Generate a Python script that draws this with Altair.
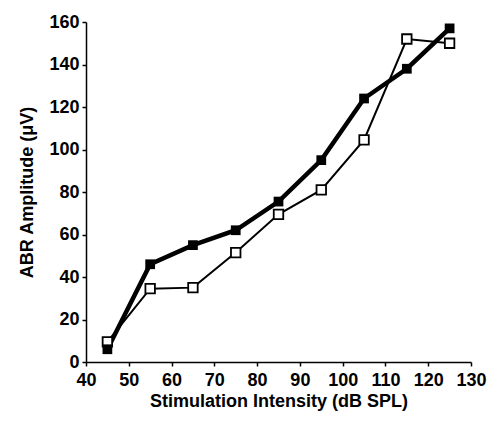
import altair as alt
import pandas as pd

intensity = [45, 55, 65, 75, 85, 95, 105, 115, 125]
filled_vals = [6, 46, 55, 62, 75.5, 95, 124, 138, 157]
open_vals = [9.5, 34.5, 35, 51.5, 69.5, 81, 104.5, 152, 150]

rows = []
for x, v in zip(intensity, filled_vals):
    rows.append({"x": x, "y": v, "series": "filled"})
for x, v in zip(intensity, open_vals):
    rows.append({"x": x, "y": v, "series": "open"})
df = pd.DataFrame(rows)

FONT = "Liberation Sans Narrow, Liberation Sans, Arial, sans-serif"

xenc = alt.X("x:Q", scale=alt.Scale(domain=[40, 130], nice=False, zero=False),
             axis=alt.Axis(values=list(range(40, 131, 10)), title="Stimulation Intensity (dB SPL)",
                           grid=False, tickSize=4, labelPadding=5, titlePadding=3,
                           labelOverlap=False, labelFlush=False))
yenc = alt.Y("y:Q", scale=alt.Scale(domain=[0, 160], nice=False),
             axis=alt.Axis(values=list(range(0, 161, 20)), title="ABR Amplitude (\u03bcV)",
                           grid=False, tickSize=4, labelPadding=3, titlePadding=12,
                           labelOverlap=False, labelFlush=False))

base = alt.Chart(df)

open_line = base.transform_filter(alt.datum.series == "open").mark_line(
    color="black", strokeWidth=2).encode(x=xenc, y=yenc)
filled_line = base.transform_filter(alt.datum.series == "filled").mark_line(
    color="black", strokeWidth=4.5).encode(x=xenc, y=yenc)
open_pts = base.transform_filter(alt.datum.series == "open").mark_square(
    size=90, fill="white", stroke="black", strokeWidth=1.8, opacity=1, filled=True).encode(x=xenc, y=yenc)
filled_pts = base.transform_filter(alt.datum.series == "filled").mark_square(
    size=95, color="black", opacity=1, filled=True).encode(x=xenc, y=yenc)

chart = alt.layer(open_line, filled_line, open_pts, filled_pts).properties(
    width=385, height=340,
    autosize=alt.AutoSizeParams(type="none"),
    padding={"left": 78, "top": 14, "right": 18, "bottom": 52},
).configure_view(stroke=None).configure_axis(
    labelFont=FONT, titleFont=FONT, labelFontSize=18, titleFontSize=18,
    labelFontWeight="bold", titleFontWeight="bold",
    labelColor="black", titleColor="black",
    domainColor="black", tickColor="black", domainWidth=1.5, tickWidth=1.5,
)

chart.save("out.html", embed_options={"renderer": "svg", "actions": False})
